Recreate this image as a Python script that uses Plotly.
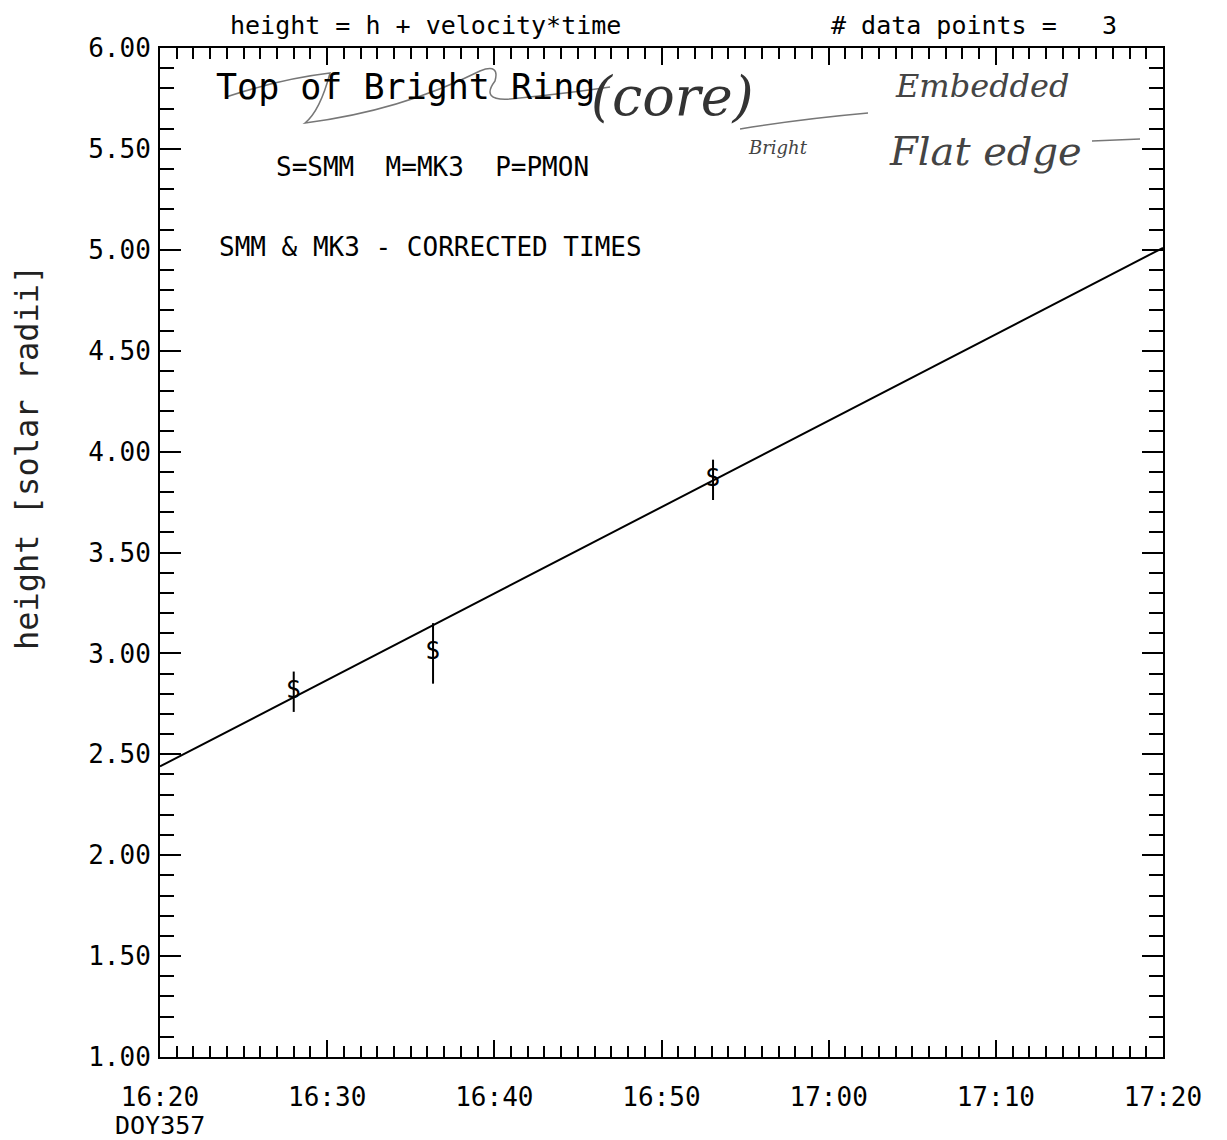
import plotly.graph_objects as go

# ---------------- data ----------------
point_times = ["16:28:00", "16:36:20", "16:53:05"]
point_heights = [2.81, 3.00, 3.86]
point_errors = [0.10, 0.15, 0.10]
point_symbols = ["S", "S", "S"]

fit_times = ["16:20:00", "17:20:00"]
fit_heights = [2.44, 5.01]

x_tick_times = ["16:20:00", "16:30:00", "16:40:00", "16:50:00", "17:00:00", "17:10:00", "17:20:00"]
x_tick_labels = ["16:20", "16:30", "16:40", "16:50", "17:00", "17:10", "17:20"]
day_label = "DOY357"

T0 = "16:20:00"


def minutes(t):
    h, m, s = (float(v) for v in t.split(":"))
    h0, m0, s0 = (float(v) for v in T0.split(":"))
    return (h * 60 + m + s / 60) - (h0 * 60 + m0 + s0 / 60)


px_pts = [minutes(t) for t in point_times]
px_fit = [minutes(t) for t in fit_times]
px_ticks = [minutes(t) for t in x_tick_times]

FONT = "DejaVu Sans Mono"
W, H = 1227, 1140
L, R, T, B = 152, 72, 40, 91

# desired on-screen plot area (used for placing annotations)
SX0, SX1, SY0, SY1 = 160, 1163, 47, 1056


def fx(x):
    return (x - SX0) / (SX1 - SX0)


def fy(y):
    return (SY1 - y) / (SY1 - SY0)


fig = go.Figure()

fig.add_trace(go.Scatter(
    x=px_fit, y=fit_heights, mode="lines",
    line=dict(color="black", width=2), showlegend=False, hoverinfo="skip"))

fig.add_trace(go.Scatter(
    x=px_pts, y=point_heights, mode="text", text=point_symbols,
    textfont=dict(family=FONT, size=24, color="black"),
    textposition="middle center",
    error_y=dict(type="data", array=point_errors, visible=True,
                 color="black", thickness=2, width=0),
    showlegend=False))

axis_common = dict(
    showline=True, linecolor="black", linewidth=2, mirror="allticks",
    ticks="inside", tickcolor="black", tickwidth=2,
    showgrid=False, zeroline=False, automargin=False,
    tickfont=dict(family=FONT, size=26, color="black"),
)

fig.update_xaxes(
    range=[0, 60], tickmode="array", tickvals=px_ticks, ticktext=x_tick_labels,
    ticklen=17, ticklabelstandoff=16,
    minor=dict(dtick=1, ticklen=11, tickcolor="black", tickwidth=1.5, ticks="inside", showgrid=False),
    **axis_common)
fig.update_yaxes(
    range=[1, 6], dtick=0.5, tick0=1, tickformat=".2f",
    ticklen=21, ticklabelstandoff=2,
    minor=dict(dtick=0.1, ticklen=14, tickcolor="black", tickwidth=1.5, ticks="inside", showgrid=False),
    **axis_common)

# day-of-year label under the first time tick
fig.add_annotation(xref="x", yref="paper", x=px_ticks[0], y=fy(1124), text=day_label,
                   showarrow=False, xanchor="center", yanchor="middle",
                   font=dict(family=FONT, color="black", size=25))

# header texts (anchored at the top of the figure)
for txt, x in [("height = h + velocity*time", 228), ("# data points =   3", 829)]:
    fig.add_annotation(xref="paper", yref="paper", x=fx(x), y=fy(8.5), text=txt,
                       showarrow=False, xanchor="left", yanchor="top",
                       font=dict(family=FONT, color="black", size=25))

annotations = [
    ("Top of Bright Ring", 214, 86, 35),
    ("S=SMM  M=MK3  P=PMON", 274, 166, 26),
    ("SMM & MK3 - CORRECTED TIMES", 217, 246, 26),
]
for txt, x, y, s in annotations:
    fig.add_annotation(xref="paper", yref="paper", x=fx(x), y=fy(y), text=txt,
                       showarrow=False, xanchor="left", yanchor="middle",
                       font=dict(family=FONT, color="black", size=s))

fig.add_annotation(xref="paper", yref="paper", x=fx(27), y=fy(457),
                   text="height [solar radii]", textangle=-90, showarrow=False,
                   xanchor="center", yanchor="middle",
                   font=dict(family=FONT, size=32, color="#222"))

# handwritten notes
hand = [
    ("(core)", 672, 95, 54, "#333"),
    ("Embedded", 982, 85, 32, "#444"),
    ("Bright", 778, 147, 18, "#444"),
    ("Flat edge", 985, 150, 40, "#444"),
]
for txt, x, y, s, c in hand:
    fig.add_annotation(xref="paper", yref="paper", x=fx(x), y=fy(y), text="<i>" + txt + "</i>",
                       showarrow=False, xanchor="center", yanchor="middle",
                       font=dict(family="DejaVu Serif", size=s, color=c))


# scribble strokes (paper-coord path)
def P(x, y):
    return f"{fx(x):.4f},{fy(y):.4f}"


scribble = ("M " + P(226, 96) + " Q " + P(280, 78) + " " + P(330, 72) +
            " Q " + P(320, 110) + " " + P(305, 122) +
            " Q " + P(400, 110) + " " + P(480, 70) +
            " Q " + P(500, 62) + " " + P(495, 80) +
            " Q " + P(480, 100) + " " + P(510, 98) +
            " Q " + P(570, 92) + " " + P(610, 86))
fig.add_shape(type="path", path=scribble, xref="paper", yref="paper",
              line=dict(color="#777", width=1.5))
fig.add_shape(type="path", path="M " + P(740, 128) + " Q " + P(800, 118) + " " + P(868, 112),
              xref="paper", yref="paper", line=dict(color="#777", width=1.5))
fig.add_shape(type="path", path="M " + P(1092, 140) + " L " + P(1140, 138),
              xref="paper", yref="paper", line=dict(color="#777", width=1.5))

fig.update_layout(
    width=W, height=H, margin=dict(l=L, r=R, t=T, b=B),
    plot_bgcolor="white", paper_bgcolor="white", showlegend=False,
)

fig.write_html("out.html")
